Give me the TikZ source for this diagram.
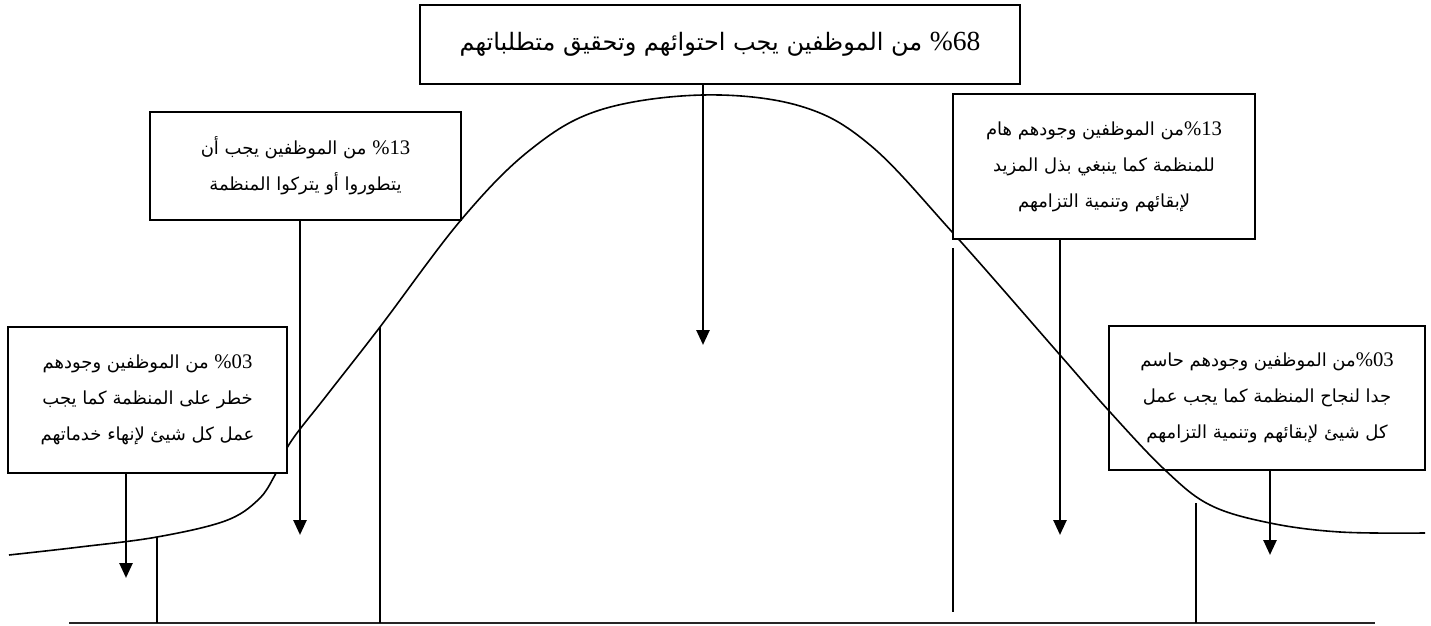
\documentclass[tikz,border=0pt]{standalone}
\usepackage{fontspec}
\usetikzlibrary{arrows.meta}
\TeXXeTstate=1
\newfontfamily\arfont[Script=Arabic]{DejaVu Sans}
\newfontfamily\numfont[Scale=1.15]{Liberation Serif}
\newcommand\pct[1]{\beginL{\numfont\%#1}\endL}
\begin{document}
\begin{tikzpicture}[x=0.5pt,y=-0.5pt,
  box/.style={draw, line width=1pt, inner sep=0pt, align=center,
    font=\arfont\fontsize{9}{18}\selectfont},
  arr/.style={line width=1.3pt, -{Triangle[length=7.5pt,width=6.5pt]}},
  vline/.style={line width=0.7pt},
  curveline/.style={line width=0.8pt},
  baseline/.style={line width=1.1pt, black!85}]
\useasboundingbox (0,0) rectangle (1431,626);
% bell curve
\draw[curveline] plot[smooth, tension=0.6] coordinates {(9,555) (80,547) (157,537) (225,521) (258,500) (275,475) (290,443) (327,395) (380,327) (461,220) (530,150) (600,110) (703,95) (800,106) (870,145) (953,233) (1060,355) (1110,412) (1165,470) (1210,505) (1270,523) (1340,532) (1425,533)};
% base line
\coordinate (bl) at (69,623);
\coordinate (br) at (1375,623);
\draw[baseline] (bl) -- (br);
% vertical separators
\coordinate (v1t) at (157,537); \coordinate (v1b) at (157,623);
\coordinate (v2t) at (380,327); \coordinate (v2b) at (380,623);
\coordinate (v3t) at (953,248); \coordinate (v3b) at (953,612);
\coordinate (v4t) at (1196,503); \coordinate (v4b) at (1196,623);
\draw[vline] (v1t) -- (v1b);
\draw[vline] (v2t) -- (v2b);
\draw[vline] (v3t) -- (v3b);
\draw[vline] (v4t) -- (v4b);
% boxes
\node[box, fill=white, minimum width=300pt, minimum height=39.5pt,
  font=\arfont\fontsize{12}{14}\selectfont] (top) at (720,44.5)
  {\beginR\pct{68} من الموظفين يجب احتوائهم وتحقيق متطلباتهم\endR};
\node[box, fill=white, minimum width=155.5pt, minimum height=54pt] (l13) at (305.5,166)
  {\beginR\pct{13} من الموظفين يجب أن\endR\\
   \beginR يتطوروا أو يتركوا المنظمة\endR};
\node[box, fill=white, minimum width=151pt, minimum height=72.5pt] (r13) at (1104,166.5)
  {\beginR\pct{13}من الموظفين وجودهم هام\endR\\
   \beginR للمنظمة كما ينبغي بذل المزيد\endR\\
   \beginR لإبقائهم وتنمية التزامهم\endR};
\node[box, fill=white, minimum width=139.5pt, minimum height=73pt] (l03) at (147.5,400)
  {\beginR\pct{03} من الموظفين وجودهم\endR\\
   \beginR خطر على المنظمة كما يجب\endR\\
   \beginR عمل كل شيئ لإنهاء خدماتهم\endR};
\node[box, minimum width=158pt, minimum height=72pt] (r03) at (1267,398)
  {\beginR\pct{03}من الموظفين وجودهم حاسم\endR\\
   \beginR جدا لنجاح المنظمة كما يجب عمل\endR\\
   \beginR كل شيئ لإبقائهم وتنمية التزامهم\endR};
% arrows
\coordinate (t1) at (126,578);
\coordinate (t2) at (300,535);
\coordinate (t3) at (703,345);
\coordinate (t4) at (1060,535);
\coordinate (t5) at (1270,555);
\draw[arr] (l03.south -| t1) -- (t1);
\draw[arr] (l13.south -| t2) -- (t2);
\draw[arr] (top.south -| t3) -- (t3);
\draw[arr] (r13.south -| t4) -- (t4);
\draw[arr] (r03.south -| t5) -- (t5);
\end{tikzpicture}
\end{document}
